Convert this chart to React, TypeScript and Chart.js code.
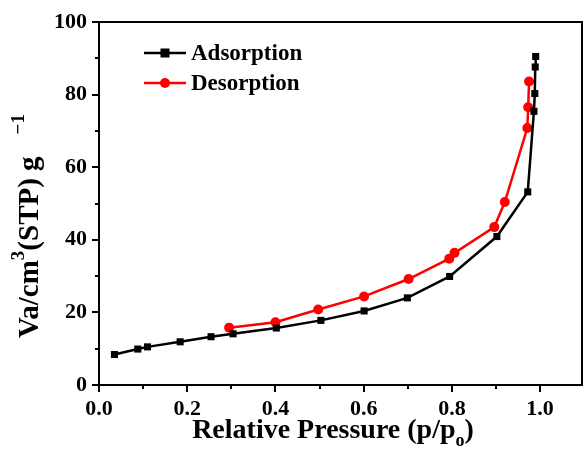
import React, { useEffect, useRef } from 'react';
import { Chart, registerables } from 'chart.js';
Chart.register(...registerables);

const adsX = [0.035, 0.088, 0.110, 0.184, 0.254, 0.304, 0.402, 0.503, 0.601, 0.699, 0.795, 0.902, 0.972, 0.986, 0.988, 0.989, 0.990];
const adsY = [8.4, 9.9, 10.5, 11.9, 13.3, 14.1, 15.7, 17.8, 20.4, 24.0, 29.9, 40.9, 53.2, 75.4, 80.3, 87.6, 90.5];
const desX = [0.295, 0.400, 0.497, 0.601, 0.702, 0.794, 0.806, 0.896, 0.920, 0.971, 0.973, 0.975];
const desY = [15.8, 17.3, 20.8, 24.4, 29.2, 34.8, 36.4, 43.5, 50.4, 70.8, 76.5, 83.6];
const seriesNames = ['Adsorption', 'Desorption'];
const seriesColors = ['#000000', '#ff0000'];
const xMinorTicks = [0.1, 0.3, 0.5, 0.7, 0.9];
const yMinorTicks = [10, 30, 50, 70, 90];

const FONT = '"Liberation Serif", "Times New Roman", serif';

type Seg = { t: string; m: 'n' | 'sup' | 'sub'; gap?: number };

function drawRich(ctx: CanvasRenderingContext2D, segs: Seg[], x: number, y: number, size: number, rotate: boolean, fromStart: boolean) {
  const main = `bold ${size}px ${FONT}`;
  const small = `bold ${Math.round(size * 0.66)}px ${FONT}`;
  const widths = segs.map((s) => {
    ctx.font = s.m === 'n' ? main : small;
    return ctx.measureText(s.t).width + (s.gap || 0);
  });
  const total = widths.reduce((a, b) => a + b, 0);
  ctx.save();
  ctx.translate(x, y);
  if (rotate) ctx.rotate(-Math.PI / 2);
  ctx.textAlign = 'left';
  ctx.textBaseline = 'alphabetic';
  ctx.fillStyle = '#000';
  let cx = fromStart ? 0 : -total / 2;
  segs.forEach((s, i) => {
    ctx.font = s.m === 'n' ? main : small;
    const dy = s.m === 'sup' ? -size * 0.5 : s.m === 'sub' ? size * 0.3 : 0;
    ctx.fillText(s.t, cx + (s.gap || 0), dy);
    cx += widths[i];
  });
  ctx.restore();
}

const decor = {
  id: 'decor',
  afterDraw(chart: any) {
    const { ctx, chartArea: a, scales } = chart;
    const x = scales.x;
    const y = scales.y;
    ctx.save();
    ctx.strokeStyle = '#000';
    ctx.lineWidth = 2;
    ctx.strokeRect(a.left, a.top, a.right - a.left, a.bottom - a.top);
    ctx.beginPath();
    xMinorTicks.forEach((v) => {
      const px = Math.round(x.getPixelForValue(v));
      ctx.moveTo(px, a.bottom);
      ctx.lineTo(px, a.bottom + 4);
    });
    yMinorTicks.forEach((v) => {
      const py = Math.round(y.getPixelForValue(v));
      ctx.moveTo(a.left - 4, py);
      ctx.lineTo(a.left, py);
    });
    ctx.stroke();

    // legend
    const lx0 = 144, lx1 = 186, ly = [53, 83];
    seriesNames.forEach((name, i) => {
      ctx.strokeStyle = seriesColors[i];
      ctx.fillStyle = seriesColors[i];
      ctx.lineWidth = 2.5;
      ctx.beginPath();
      ctx.moveTo(lx0, ly[i]);
      ctx.lineTo(lx1, ly[i]);
      ctx.stroke();
      const mx = (lx0 + lx1) / 2;
      if (i === 0) {
        ctx.fillRect(mx - 4.5, ly[i] - 4.5, 9, 9);
      } else {
        ctx.beginPath();
        ctx.arc(mx, ly[i], 5, 0, Math.PI * 2);
        ctx.fill();
      }
      ctx.fillStyle = '#000';
      ctx.font = `bold 23px ${FONT}`;
      ctx.textAlign = 'left';
      ctx.textBaseline = 'middle';
      ctx.fillText(name, 191, ly[i] + 1);
    });

    drawRich(ctx, [
      { t: 'Relative Pressure (p/p', m: 'n' },
      { t: 'o', m: 'sub' },
      { t: ')', m: 'n' },
    ], 333, 438, 28, false, false);
    drawRich(ctx, [
      { t: 'Va/cm', m: 'n' },
      { t: '3', m: 'sup' },
      { t: '(STP) g', m: 'n' },
      { t: '\u22121', m: 'sup', gap: 22 },
    ], 38, 338, 29, true, true);
    ctx.restore();
  },
};

export default function App() {
  const ref = useRef<HTMLCanvasElement>(null);
  useEffect(() => {
    document.body.style.margin = '0';
    const tickFont = { family: FONT, size: 22, weight: 'bold' as const };
    const chart = new Chart(ref.current!, {
      type: 'scatter',
      data: {
        datasets: [
          {
            label: seriesNames[0],
            data: adsX.map((v, i) => ({ x: v, y: adsY[i] })),
            showLine: true,
            borderColor: seriesColors[0],
            backgroundColor: seriesColors[0],
            borderWidth: 2.5,
            pointStyle: 'rect',
            pointRadius: 5,
            pointBorderWidth: 0,
          },
          {
            label: seriesNames[1],
            data: desX.map((v, i) => ({ x: v, y: desY[i] })),
            showLine: true,
            borderColor: seriesColors[1],
            backgroundColor: seriesColors[1],
            borderWidth: 2.5,
            pointStyle: 'circle',
            pointRadius: 5,
            pointBorderWidth: 0,
          },
        ],
      },
      options: {
        animation: false,
        responsive: false,
        devicePixelRatio: 1,
        layout: { padding: { left: 0, top: 22, right: 3, bottom: 0 } },
        plugins: { legend: { display: false }, tooltip: { enabled: false } },
        scales: {
          x: {
            type: 'linear',
            min: 0,
            max: 1.095,
            afterFit: (s: any) => { s.height = 71; },
            grid: { drawOnChartArea: false, drawTicks: true, tickLength: 7, color: '#000', lineWidth: 2 },
            border: { display: true, color: '#000', width: 2 },
            ticks: {
              stepSize: 0.2,
              includeBounds: false,
              color: '#000',
              font: tickFont,
              padding: 4,
              maxRotation: 0,
              callback: (v: any) => Number(v).toFixed(1),
            },
          },
          y: {
            type: 'linear',
            min: 0,
            max: 100,
            afterFit: (s: any) => { s.width = 99; },
            grid: { drawOnChartArea: false, drawTicks: true, tickLength: 7, color: '#000', lineWidth: 2 },
            border: { display: true, color: '#000', width: 2 },
            ticks: { stepSize: 20, color: '#000', font: tickFont, padding: 5 },
          },
        },
      },
      plugins: [decor],
    });
    return () => chart.destroy();
  }, []);
  return (
    <div style={{ width: 587, height: 456 }}>
      <canvas ref={ref} width={587} height={456} style={{ width: 587, height: 456, display: 'block' }} />
    </div>
  );
}
